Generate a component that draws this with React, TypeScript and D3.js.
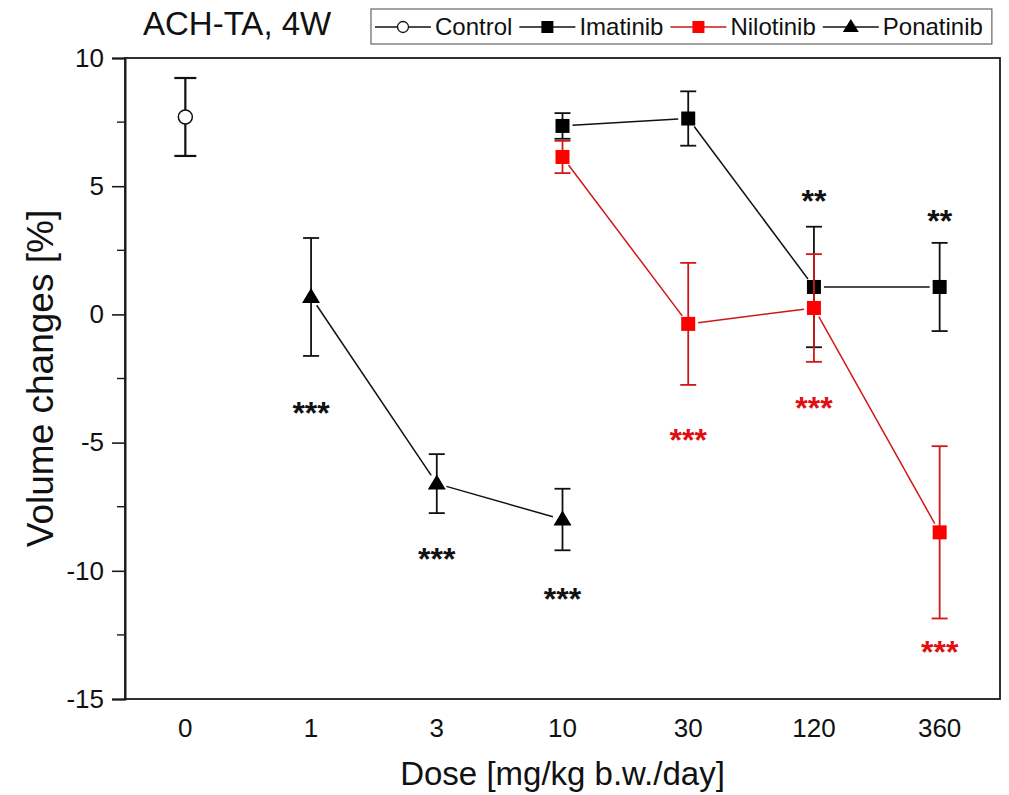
import React, { useRef, useEffect } from "react";
import * as d3 from "d3";

// dose categories (equal spacing on the axis)
const doses = ["0", "1", "3", "10", "30", "120", "360"];

const controlDoses = ["0"];
const controlMean = [7.7];
const controlSd = [1.52];

const imatinibDoses = ["10", "30", "120", "360"];
const imatinibMean = [7.35, 7.64, 1.07, 1.07];
const imatinibSd = [0.5, 1.06, 2.35, 1.72];

const nilotinibDoses = ["10", "30", "120", "360"];
const nilotinibMean = [6.14, -0.37, 0.25, -8.5];
const nilotinibSd = [0.63, 2.38, 2.1, 3.36];

const ponatinibDoses = ["1", "3", "10"];
const ponatinibMean = [0.68, -6.6, -8.0];
const ponatinibSd = [2.3, 1.15, 1.2];

// significance marks
const starDoses = ["1", "3", "10", "120", "360", "30", "120", "360"];
const starY = [-3.63, -9.3, -10.86, 4.65, 3.87, -4.65, -3.4, -12.93];
const starText = ["***", "***", "***", "**", "**", "***", "***", "***"];
const starRed = [false, false, false, false, false, true, true, true];

const yTicks = [-15, -10, -5, 0, 5, 10];
const yMinor = [-12.5, -7.5, -2.5, 2.5, 7.5];

const RED = "#ff0000";
const RED_LINE = "#d01818";
const FONT = "'Liberation Sans', Arial, sans-serif";

const App = () => {
  const svgRef = useRef<SVGSVGElement>(null);

  useEffect(() => {
    document.body.style.margin = "0";
    const svg = d3.select(svgRef.current);
    svg.selectAll("*").remove();

    const width = 1009;
    const height = 795;
    const left = 125;
    const right = 1000;
    const top = 58;
    const bottom = 699;
    svg.attr("width", width).attr("height", height);
    svg.append("rect").attr("width", width).attr("height", height).attr("fill", "#fff");

    const x = d3.scalePoint<string>().domain(doses).range([left, right]).padding(0.48);
    const y = d3.scaleLinear().domain([-15, 10]).range([bottom, top]);

    // frame
    svg
      .append("rect")
      .attr("x", left)
      .attr("y", top)
      .attr("width", right - left)
      .attr("height", bottom - top)
      .attr("fill", "none")
      .attr("stroke", "#1a1a1a")
      .attr("stroke-width", 1.8);

    // y axis
    const yAxis = svg
      .append("g")
      .attr("transform", `translate(${left},0)`)
      .call(d3.axisLeft(y).tickValues(yTicks).tickSize(13).tickPadding(8).tickFormat((d) => String(d)));
    yAxis.select(".domain").attr("stroke", "#1a1a1a").attr("stroke-width", 2);
    yAxis.selectAll(".tick line").attr("stroke", "#1a1a1a").attr("stroke-width", 1.6);
    yAxis
      .selectAll(".tick text")
      .attr("font-family", FONT)
      .attr("font-size", 26)
      .attr("fill", "#111");

    svg
      .append("g")
      .selectAll("line")
      .data(yMinor)
      .enter()
      .append("line")
      .attr("x1", left - 8)
      .attr("x2", left)
      .attr("y1", (d) => y(d))
      .attr("y2", (d) => y(d))
      .attr("stroke", "#1a1a1a")
      .attr("stroke-width", 1.4);

    // x labels (no tick marks)
    svg
      .append("g")
      .selectAll("text")
      .data(doses)
      .enter()
      .append("text")
      .attr("x", (d) => x(d)!)
      .attr("y", bottom + 38)
      .attr("text-anchor", "middle")
      .attr("font-family", FONT)
      .attr("font-size", 26)
      .attr("fill", "#111")
      .text((d) => d);

    // axis titles
    svg
      .append("text")
      .attr("x", (left + right) / 2)
      .attr("y", 785)
      .attr("text-anchor", "middle")
      .attr("font-family", FONT)
      .attr("font-size", 33)
      .attr("fill", "#111")
      .text("Dose [mg/kg b.w./day]");

    svg
      .append("text")
      .attr("transform", `translate(53,${(top + bottom) / 2}) rotate(-90)`)
      .attr("text-anchor", "middle")
      .attr("font-family", FONT)
      .attr("font-size", 37)
      .attr("fill", "#111")
      .text("Volume changes [%]");

    svg
      .append("text")
      .attr("x", 143)
      .attr("y", 35)
      .attr("font-family", FONT)
      .attr("font-size", 33)
      .attr("fill", "#111")
      .text("ACH-TA, 4W");

    // series
    const series = [
      { doses: controlDoses, mean: controlMean, sd: controlSd, line: "#111", fill: "#fff", marker: "circle", cap: 11 },
      { doses: imatinibDoses, mean: imatinibMean, sd: imatinibSd, line: "#111", fill: "#000", marker: "square", cap: 8 },
      { doses: nilotinibDoses, mean: nilotinibMean, sd: nilotinibSd, line: RED_LINE, fill: RED, marker: "square", cap: 8 },
      { doses: ponatinibDoses, mean: ponatinibMean, sd: ponatinibSd, line: "#111", fill: "#000", marker: "triangle", cap: 8 },
    ];

    const gap = 10;
    series.forEach((s) => {
      const pts = s.doses.map((d, i) => [x(d)!, y(s.mean[i])]);
      // connecting lines, with a gap around each symbol
      for (let i = 0; i < pts.length - 1; i++) {
        const [x0, y0] = pts[i];
        const [x1, y1] = pts[i + 1];
        const len = Math.hypot(x1 - x0, y1 - y0);
        const ux = (x1 - x0) / len;
        const uy = (y1 - y0) / len;
        svg
          .append("line")
          .attr("x1", x0 + ux * gap)
          .attr("y1", y0 + uy * gap)
          .attr("x2", x1 - ux * gap)
          .attr("y2", y1 - uy * gap)
          .attr("stroke", s.line)
          .attr("stroke-width", 1.5);
      }
    });

    series.forEach((s) => {
      const g = svg.append("g");
      s.doses.forEach((d, i) => {
        const cx = x(d)!;
        const hi = y(s.mean[i] + s.sd[i]);
        const lo = y(s.mean[i] - s.sd[i]);
        const sw = s.marker === "circle" ? 2.2 : 1.8;
        g.append("line").attr("x1", cx).attr("x2", cx).attr("y1", hi).attr("y2", lo)
          .attr("stroke", s.line).attr("stroke-width", sw);
        [hi, lo].forEach((yy) => {
          g.append("line").attr("x1", cx - s.cap).attr("x2", cx + s.cap).attr("y1", yy).attr("y2", yy)
            .attr("stroke", s.line).attr("stroke-width", sw);
        });
      });
      s.doses.forEach((d, i) => {
        const cx = x(d)!;
        const cy = y(s.mean[i]);
        if (s.marker === "circle") {
          g.append("circle").attr("cx", cx).attr("cy", cy).attr("r", 7)
            .attr("fill", s.fill).attr("stroke", "#111").attr("stroke-width", 1.5);
        } else if (s.marker === "square") {
          g.append("rect").attr("x", cx - 7).attr("y", cy - 7).attr("width", 14).attr("height", 14)
            .attr("fill", s.fill);
        } else {
          g.append("path")
            .attr("d", `M${cx},${cy - 9}L${cx + 9},${cy + 6}L${cx - 9},${cy + 6}Z`)
            .attr("fill", s.fill);
        }
      });
    });

    // significance stars
    svg
      .append("g")
      .selectAll("text")
      .data(starText)
      .enter()
      .append("text")
      .attr("x", (d, i) => x(starDoses[i])!)
      .attr("y", (d, i) => y(starY[i]) + 17)
      .attr("text-anchor", "middle")
      .attr("font-family", FONT)
      .attr("font-weight", "bold")
      .attr("font-size", 32)
      .attr("fill", (d, i) => (starRed[i] ? "#e01010" : "#111"))
      .text((d) => d);

    // legend
    const legend = svg.append("g");
    const legendItems = [
      { name: "Control", color: "#111", fill: "#fff", marker: "circle" },
      { name: "Imatinib", color: "#111", fill: "#000", marker: "square" },
      { name: "Nilotinib", color: RED_LINE, fill: RED, marker: "square" },
      { name: "Ponatinib", color: "#111", fill: "#000", marker: "triangle" },
    ];
    const box = legend.append("rect")
      .attr("x", 371).attr("y", 9).attr("height", 35)
      .attr("fill", "#fff").attr("stroke", "#666").attr("stroke-width", 1.2);
    let lx = 375;
    const ly = 27;
    const seg = 56;
    legendItems.forEach((it) => {
      legend.append("line").attr("x1", lx).attr("x2", lx + seg).attr("y1", ly).attr("y2", ly)
        .attr("stroke", it.color).attr("stroke-width", 1.5);
      const mx = lx + seg / 2;
      if (it.marker === "circle") {
        legend.append("circle").attr("cx", mx).attr("cy", ly).attr("r", 5.5)
          .attr("fill", "#fff").attr("stroke", "#111").attr("stroke-width", 1.3);
      } else if (it.marker === "square") {
        legend.append("rect").attr("x", mx - 6).attr("y", ly - 6).attr("width", 12).attr("height", 12)
          .attr("fill", it.fill);
      } else {
        legend.append("path")
          .attr("d", `M${mx},${ly - 8}L${mx + 8},${ly + 5}L${mx - 8},${ly + 5}Z`)
          .attr("fill", it.fill);
      }
      const t = legend.append("text")
        .attr("x", lx + seg + 4)
        .attr("y", ly + 8)
        .attr("font-family", FONT)
        .attr("font-size", 24)
        .attr("fill", "#111")
        .text(it.name);
      const w = (t.node() as SVGTextElement).getComputedTextLength();
      lx += seg + 4 + w + 7;
    });
    box.attr("width", lx - 371 + 2);
  }, []);

  return <svg ref={svgRef} style={{ display: "block" }} />;
};

export default App;
